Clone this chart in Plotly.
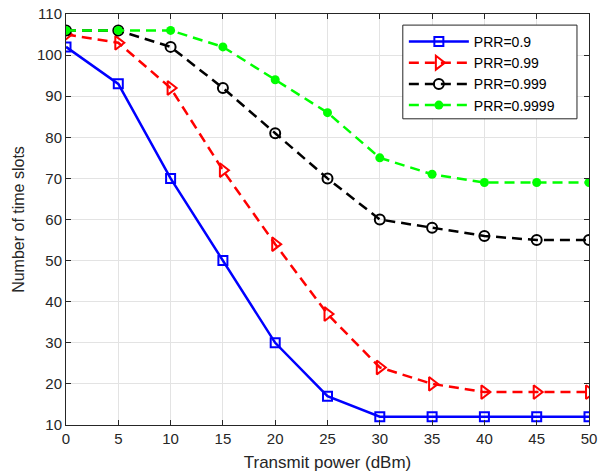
import plotly.graph_objects as go

power = [0, 5, 10, 15, 20, 25, 30, 35, 40, 45, 50]
prr_09 = [102, 93, 70, 50, 30, 17, 12, 12, 12, 12, 12]
prr_099 = [105, 103, 92, 72, 54, 37, 24, 20, 18, 18, 18]
prr_0999 = [106, 106, 102, 92, 81, 70, 60, 58, 56, 55, 55]
prr_09999 = [106, 106, 106, 102, 94, 86, 75, 71, 69, 69, 69]
names = ["PRR=0.9", "PRR=0.99", "PRR=0.999", "PRR=0.9999"]

FONT = "Liberation Sans, Arial, sans-serif"

fig = go.Figure()
fig.add_trace(go.Scatter(x=power, y=prr_09, name=names[0], mode="lines+markers",
                         line=dict(color="#0000ff", width=2.5),
                         marker=dict(symbol="square-open", size=9, color="#0000ff", line=dict(width=2))))
fig.add_trace(go.Scatter(x=power, y=prr_099, name=names[1], mode="lines+markers",
                         line=dict(color="#ff0000", width=2.5, dash="10px,6px"),
                         marker=dict(symbol="triangle-right-open", size=12, color="#ff0000", line=dict(width=2))))
fig.add_trace(go.Scatter(x=power, y=prr_0999, name=names[2], mode="lines+markers",
                         line=dict(color="#000000", width=2.5, dash="10px,6px"),
                         marker=dict(symbol="circle-open", size=10, color="#000000", line=dict(width=2))))
fig.add_trace(go.Scatter(x=power, y=prr_09999, name=names[3], mode="lines+markers",
                         line=dict(color="#00ff00", width=2.5, dash="10px,6px"),
                         marker=dict(symbol="circle", size=9, color="#00ff00")))

axis_common = dict(showline=True, linecolor="#262626", linewidth=1, mirror="ticks",
                   ticks="inside", ticklen=5, tickcolor="#262626", automargin=False,
                   showgrid=True, gridcolor="#e3e3e3", gridwidth=1, zeroline=False,
                   tickfont=dict(family=FONT, size=15, color="#262626"))

fig.update_xaxes(range=[0, 50], tickmode="array", tickvals=power,
                 title_text="Transmit power (dBm)", title_standoff=10,
                 title_font=dict(family=FONT, size=17, color="#262626"), **axis_common)
fig.update_yaxes(range=[10, 110], tickmode="array", tickvals=list(range(10, 111, 10)),
                 title_text="Number of time slots", title_standoff=8,
                 title_font=dict(family=FONT, size=16, color="#262626"), **axis_common)

# legend box frame (opaque, drawn above the data, under the legend entries)
fig.add_shape(type="rect", xref="paper", yref="paper", x0=0.644, x1=0.977, y0=0.745, y1=0.973,
              line=dict(color="#262626", width=1), fillcolor="white", layer="above")

fig.update_layout(width=598, height=474, margin=dict(l=66, r=9, t=14, b=49),
                  paper_bgcolor="white", plot_bgcolor="white",
                  legend=dict(x=0.646, y=0.971, xanchor="left", yanchor="top",
                              borderwidth=0, bgcolor="rgba(0,0,0,0)",
                              font=dict(family=FONT, size=14, color="#000000"),
                              tracegroupgap=0, itemwidth=60))

fig.write_html("out.html", config={"displayModeBar": False},
               post_script="document.body.style.margin='0';document.body.style.overflow='hidden';")
